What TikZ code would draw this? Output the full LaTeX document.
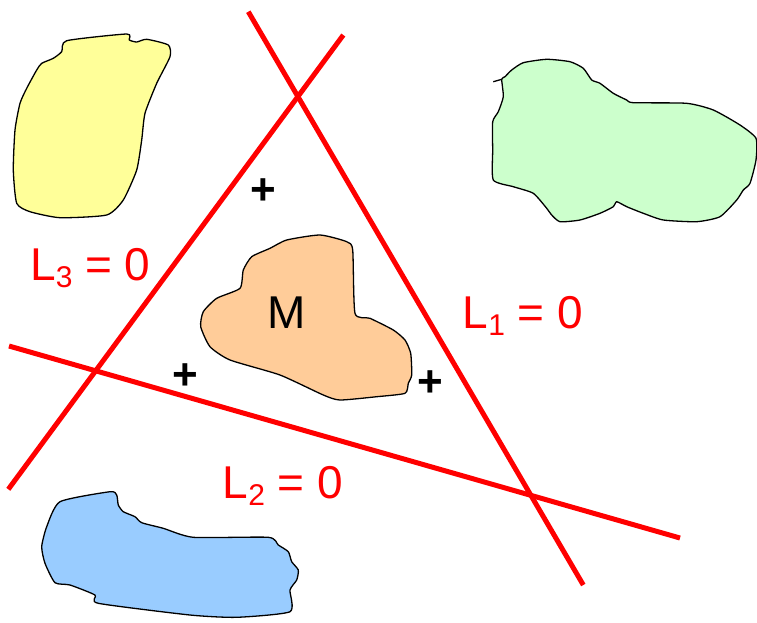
\documentclass[tikz,border=0pt]{standalone}
\usepackage{fontspec}
\setmainfont{Liberation Sans}
\definecolor{yel}{HTML}{FFFF99}
\definecolor{grn}{HTML}{CCFFCC}
\definecolor{org}{HTML}{FFCC99}
\definecolor{blu}{HTML}{99CCFF}
\newcommand{\lbl}[1]{L\raisebox{-7pt}{\fontsize{30}{30}\selectfont #1} = 0}
\tikzset{
  blob/.style={draw=black, line width=1.3pt, line join=round},
  redline/.style={draw=red, line width=5pt},
  lab/.style={text=red, font=\fontsize{46}{46}\selectfont, anchor=base west, inner sep=0pt},
  plus/.style={font=\fontsize{44}{44}\bfseries\selectfont, inner sep=0pt},
}
\begin{document}
\begin{tikzpicture}[x=1pt,y=-1pt]
\useasboundingbox (0,0) rectangle (757,622);
% yellow
\filldraw[blob, fill=yel] plot[smooth cycle, tension=0.35] coordinates {
(66.7,40.7) (126.7,34) (129.3,40) (136.7,42) (146.7,39.3) (168.3,45) (170,56.7)
(156.7,83.3) (145,113.3) (141.7,140) (136.7,170) (123.3,200) (106.7,215) (60,217.7)
(30,211.7) (16.7,203.3) (13.3,170) (15,130) (20,103.3) (26.7,88.3) (36.7,70)
(41.7,63.3) (53.3,58.3) (61.7,51.7)};
% green
\filldraw[blob, fill=grn] plot[smooth cycle, tension=0.35] coordinates {
(501.7,79.3) (505,76.7) (511.7,70) (523.3,62.7) (546.7,59.3) (570,61.7) (583.3,68.3)
(591.7,80) (600,83.3) (613.3,93.3) (626.7,100) (633.3,102.7) (686.7,103.3) (713.3,110)
(740,125) (756,138.3) (756,160) (750,183.3) (743.3,190) (736.7,200) (720,216.7)
(696.7,221.7) (663.3,220) (643.3,213.3) (626.7,206.7) (616.7,201.7) (613.3,206.7)
(600,213.3) (580,220) (560,221.7) (551.7,215) (546.7,208.3) (533.3,193.3) (513.3,186.7)
(493.3,180) (492.7,150) (492.7,121.7) (498.3,111.7) (503.3,96.7)};
\coordinate (sp1) at (493.3,81.7);
\coordinate (sp2) at (501.7,79.3);
\draw[blob] (sp1) -- (sp2);
% orange
\filldraw[blob, fill=org] plot[smooth cycle, tension=0.35] coordinates {
(240,288.3) (243.3,270) (251.7,256.7) (270,248.3) (286.7,240) (320,235) (346.7,241.7)
(352.7,250) (355,313.3) (370,318.3) (393.3,330) (405,340) (410.7,353.3) (411.7,375)
(408.3,383.3) (405,393.3) (376.7,396.7) (340,400) (323.3,395) (280,375) (230,360)
(210,346.7) (200.7,326.7) (203.3,311.7) (216.7,298.3)};
% blue
\filldraw[blob, fill=blu] plot[smooth cycle, tension=0.35] coordinates {
(60,501.7) (110,491.7) (116.7,495) (118.3,505) (123.3,511.7) (135,516.7) (141.7,522.7)
(163.3,528.3) (193.3,537.3) (268.3,537.3) (278.3,545) (288.3,551.7) (291.7,561.7)
(298.3,570) (296.7,580) (290,590) (290,611.7) (236.7,617.3) (190,615) (98.3,603.3)
(95,595) (70,585) (55,582.7) (45,563.3) (41.7,546.7) (46.7,526.7)};
% lines
\coordinate (a3) at (8.3,489.3);
\coordinate (b3) at (343.3,35);
\coordinate (a1) at (248.3,11.7);
\coordinate (b1) at (583.3,585);
\coordinate (a2) at (9,346);
\coordinate (b2) at (680,538);
\draw[redline] (a3) -- (b3);
\draw[redline] (a1) -- (b1);
\draw[redline] (a2) -- (b2);
% labels
\node[lab] (l3) at (30,280.7) {\lbl{3}};
\node[lab] (l1) at (462.7,328.3) {\lbl{1}};
\node[lab] (l2) at (222.7,498.3) {\lbl{2}};
\node[font=\fontsize{46}{46}\selectfont, anchor=base, inner sep=0pt] (M) at (286.7,328.3) {M};
% plus signs
\node[plus] (p1) at (263,192) {+};
\node[plus] (p2) at (185,377) {+};
\node[plus] (p3) at (430,384) {+};
\end{tikzpicture}
\end{document}
